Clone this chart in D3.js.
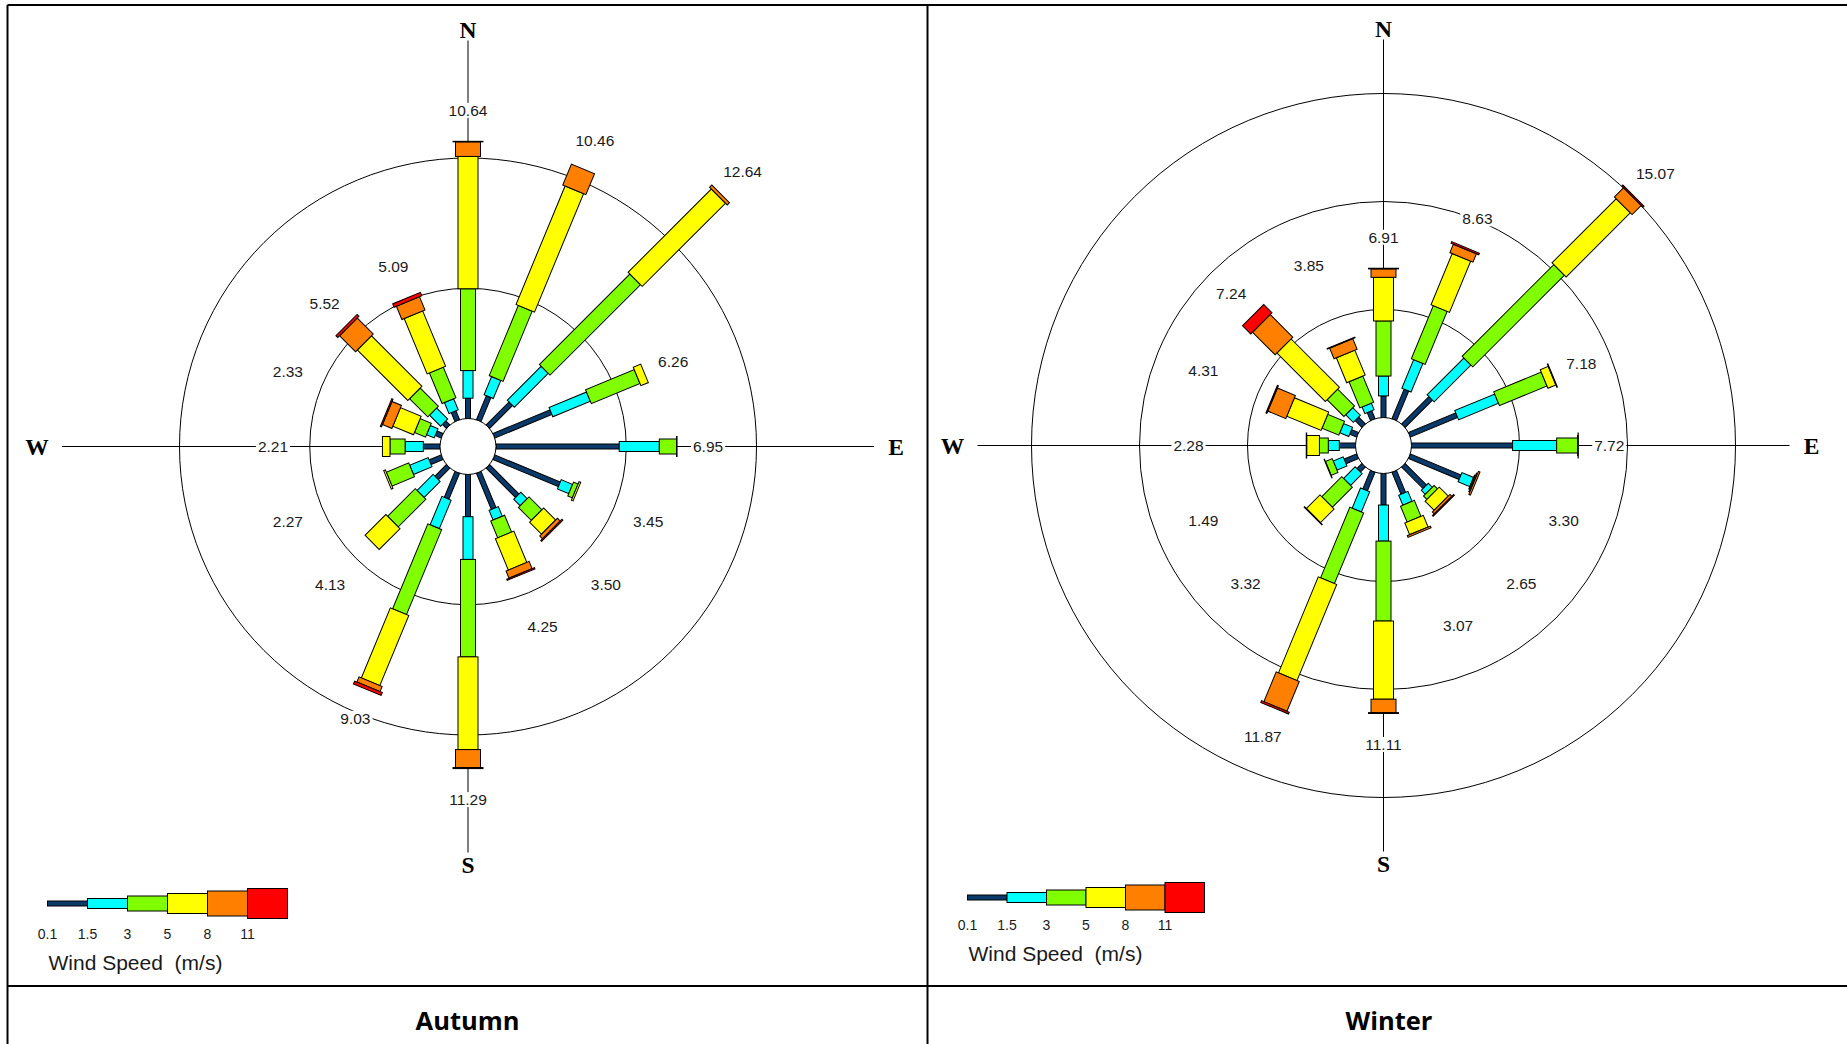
<!DOCTYPE html>
<html>
<head>
<meta charset="utf-8">
<script src="https://cdn.jsdelivr.net/npm/d3@7"></script>
<style>
  html, body { margin: 0; padding: 0; background: #fff; }
  svg { display: block; }
  .value { font-family: "Liberation Sans", Arial, sans-serif; font-size: 15.5px; fill: #1a1a1a; }
  .compass { font-family: "Liberation Serif", "Times New Roman", serif; font-weight: bold; font-size: 23.5px; fill: #000; }
  .legend-tick { font-family: "Liberation Sans", Arial, sans-serif; font-size: 14px; fill: #1a1a1a; }
  .legend-title { font-family: "Liberation Sans", Arial, sans-serif; font-size: 21px; fill: #1a1a1a; white-space: pre; }
  .panel-title { font-family: "Open Sans", "Noto Sans", sans-serif; font-weight: 700; font-size: 25.5px; fill: #000; }
</style>
</head>
<body>
<div id="chart"></div>
<script>
const directions = ['N', 'NNE', 'NE', 'ENE', 'E', 'ESE', 'SE', 'SSE', 'S', 'SSW', 'SW', 'WSW', 'W', 'WNW', 'NW', 'NNW'];
const speedBins = ['0.1-1.5', '1.5-3', '3-5', '5-8', '8-11', '>=11'];
const legendTicks = ['0.1', '1.5', '3', '5', '8', '11'];

// frequency (%) per direction, one value per speed bin
const autumnFreq = [
  [0.78, 1.06, 3.14, 5.08, 0.56, 0.02], // N
  [1.00, 0.75, 2.92, 4.92, 0.87, 0.00], // NNE
  [1.25, 1.84, 4.91, 4.52, 0.12, 0.00], // NE
  [2.37, 1.56, 2.02, 0.31, 0.00, 0.00], // ENE
  [4.73, 1.54, 0.66, 0.02, 0.00, 0.00], // E
  [2.72, 0.47, 0.19, 0.07, 0.00, 0.00], // ESE
  [1.60, 0.35, 0.70, 0.65, 0.15, 0.05], // SE
  [1.50, 0.40, 0.70, 1.30, 0.30, 0.05], // SSE
  [1.62, 1.64, 3.74, 3.56, 0.69, 0.04], // S
  [1.08, 1.18, 3.53, 2.91, 0.21, 0.12], // SSW
  [0.63, 0.87, 1.50, 1.13, 0.00, 0.00], // SW
  [0.50, 0.77, 0.93, 0.07, 0.00, 0.00], // WSW
  [0.64, 0.70, 0.58, 0.29, 0.00, 0.00], // W
  [0.25, 0.32, 0.46, 0.86, 0.39, 0.05], // WNW
  [0.22, 0.60, 0.99, 2.74, 0.87, 0.10], // NW
  [0.37, 0.46, 1.27, 2.30, 0.55, 0.14], // NNW
];

const winterFreq = [
  [1.00, 0.92, 2.55, 2.02, 0.39, 0.03], // N
  [1.48, 1.43, 2.66, 2.56, 0.42, 0.08], // NNE
  [1.79, 2.41, 6.00, 4.20, 0.60, 0.07], // NE
  [2.37, 2.00, 2.38, 0.40, 0.03, 0.00], // ENE
  [4.68, 2.04, 0.97, 0.02, 0.01, 0.00], // E
  [2.54, 0.58, 0.05, 0.05, 0.08, 0.00], // ESE
  [1.41, 0.26, 0.22, 0.59, 0.12, 0.05], // SE
  [1.10, 0.50, 0.80, 0.58, 0.09, 0.00], // SSE
  [1.46, 1.67, 3.70, 3.62, 0.62, 0.04], // S
  [0.93, 1.01, 3.54, 4.81, 1.49, 0.09], // SSW
  [0.33, 0.76, 1.31, 0.89, 0.03, 0.00], // SW
  [0.63, 0.50, 0.34, 0.02, 0.00, 0.00], // WSW
  [0.75, 0.51, 0.41, 0.59, 0.02, 0.00], // W
  [0.35, 0.45, 0.84, 1.72, 0.90, 0.05], // WNW
  [0.45, 0.50, 1.10, 3.17, 1.48, 0.54], // NW
  [0.40, 0.33, 1.31, 1.25, 0.53, 0.03], // NNW
];

const autumnRings = [5, 10];
const winterRings = [5, 10, 15];
const panelTitles = ['Autumn', 'Winter'];

const binColors = ['#0a3a6a', '#00ffff', '#80ff00', '#ffff00', '#ff8000', '#ff0000'];
const binWidths = [5, 10, 15, 20, 25, 30];

const W = 1847, H = 1044;
const HUB_R = 28;
const AXIS_LEN = 406;

const panels = [
  {title: panelTitles[0], freq: autumnFreq, rings: autumnRings, cx: 468, cy: 446.5, outerR: 288.5,
    legend: {x: 47.5, y: 903.5, step: 40, tickY: 939, titleY: 970}, titleX: 467.6},
  {title: panelTitles[1], freq: winterFreq, rings: winterRings, cx: 1383.5, cy: 445.5, outerR: 352,
    legend: {x: 967.5, y: 897.5, step: 39.5, tickY: 930, titleY: 960.5}, titleX: 1389},
];

const svg = d3.select('#chart').append('svg')
  .attr('width', W)
  .attr('height', H);

svg.append('rect').attr('width', W).attr('height', H).attr('fill', '#fff');

// table frame
const frame = svg.append('g').attr('stroke', '#000').attr('stroke-width', 2);
frame.append('line').attr('x1', 7.5).attr('x2', W).attr('y1', 5).attr('y2', 5);
frame.append('line').attr('x1', 7.5).attr('x2', 7.5).attr('y1', 5).attr('y2', H);
frame.append('line').attr('x1', 927.5).attr('x2', 927.5).attr('y1', 5).attr('y2', H);
frame.append('line').attr('x1', 7.5).attr('x2', W).attr('y1', 986).attr('y2', 986);

const angleOf = d3.scaleLinear().domain([0, directions.length]).range([0, 360]);
const polar = (rad, deg) => {
  const a = deg * Math.PI / 180;
  return [rad * Math.sin(a), -rad * Math.cos(a)];
};

function drawRose(p) {
  const g = svg.append('g').attr('transform', `translate(${p.cx},${p.cy})`);
  const r = d3.scaleLinear().domain([0, d3.max(p.rings)]).range([HUB_R, p.outerR]);

  // rings
  g.append('g').selectAll('circle')
    .data(p.rings)
    .join('circle')
    .attr('r', d => r(d))
    .attr('fill', 'none')
    .attr('stroke', '#000')
    .attr('stroke-width', 1);

  // compass axes
  const compass = [
    {t: 'N', a: 0, d: 417}, {t: 'E', a: 90, d: 428},
    {t: 'S', a: 180, d: 418}, {t: 'W', a: 270, d: 431},
  ];
  g.append('g').selectAll('line')
    .data(compass)
    .join('line')
    .attr('x1', 0).attr('y1', 0)
    .attr('x2', d => polar(AXIS_LEN, d.a)[0])
    .attr('y2', d => polar(AXIS_LEN, d.a)[1])
    .attr('stroke', '#000')
    .attr('stroke-width', 1);
  g.append('g').selectAll('text')
    .data(compass)
    .join('text')
    .attr('class', 'compass')
    .attr('x', d => polar(d.d, d.a)[0])
    .attr('y', d => polar(d.d, d.a)[1])
    .attr('text-anchor', 'middle')
    .attr('dominant-baseline', 'central')
    .text(d => d.t);

  // totals per direction
  const rows = directions.map((dir, i) => {
    const vals = p.freq[i];
    const cum = Array.from(d3.cumsum(vals));
    const segs = vals.map((v, k) => ({k, f0: k ? cum[k - 1] : 0, f1: cum[k]})).filter(s => s.f1 > s.f0);
    return {dir, angle: angleOf(i), total: d3.sum(vals), segs};
  });

  // value labels (white box so lines break around them)
  const labels = g.append('g').selectAll('g')
    .data(rows)
    .join('g')
    .attr('transform', d => {
      const [x, y] = polar(Math.max(r(d.total) + 31, 195), d.angle);
      return `translate(${x},${y})`;
    });
  labels.append('rect').attr('fill', '#fff');
  labels.append('text')
    .attr('class', 'value')
    .attr('text-anchor', 'middle')
    .attr('dominant-baseline', 'central')
    .text(d => d.total.toFixed(2));
  labels.each(function () {
    const gl = d3.select(this);
    const bb = gl.select('text').node().getBBox();
    gl.select('rect')
      .attr('x', bb.x - 2).attr('y', bb.y + 1)
      .attr('width', bb.width + 4).attr('height', bb.height - 2);
  });

  // bars
  const spokes = g.append('g').selectAll('g')
    .data(rows)
    .join('g')
    .attr('transform', d => `rotate(${d.angle})`);
  spokes.selectAll('rect')
    .data(d => d.segs)
    .join('rect')
    .attr('x', s => -binWidths[s.k] / 2)
    .attr('y', s => -r(s.f1))
    .attr('width', s => binWidths[s.k])
    .attr('height', s => r(s.f1) - r(s.f0))
    .attr('fill', s => binColors[s.k])
    .attr('stroke', '#000')
    .attr('stroke-width', 1);

  // hub
  g.append('circle')
    .attr('r', HUB_R)
    .attr('fill', '#fff')
    .attr('stroke', '#000')
    .attr('stroke-width', 1);
}

function drawLegend(p) {
  const L = p.legend;
  const lg = svg.append('g');
  const x = d3.scaleLinear().domain([0, speedBins.length]).range([L.x, L.x + L.step * speedBins.length]);

  lg.selectAll('rect')
    .data(speedBins)
    .join('rect')
    .attr('x', (d, i) => x(i))
    .attr('y', (d, i) => L.y - binWidths[i] / 2)
    .attr('width', L.step)
    .attr('height', (d, i) => binWidths[i])
    .attr('fill', (d, i) => binColors[i])
    .attr('stroke', '#000')
    .attr('stroke-width', 1);

  lg.selectAll('text.legend-tick')
    .data(legendTicks)
    .join('text')
    .attr('class', 'legend-tick')
    .attr('x', (d, i) => x(i))
    .attr('y', L.tickY)
    .attr('text-anchor', 'middle')
    .text(d => d);

  lg.append('text')
    .attr('class', 'legend-title')
    .attr('x', L.x + 1)
    .attr('y', L.titleY)
    .text('Wind Speed  (m/s)');
}

panels.forEach(p => {
  drawRose(p);
  drawLegend(p);
  svg.append('text')
    .attr('class', 'panel-title')
    .attr('x', p.titleX)
    .attr('y', 1030)
    .attr('text-anchor', 'middle')
    .text(p.title);
});
</script>
</body>
</html>
